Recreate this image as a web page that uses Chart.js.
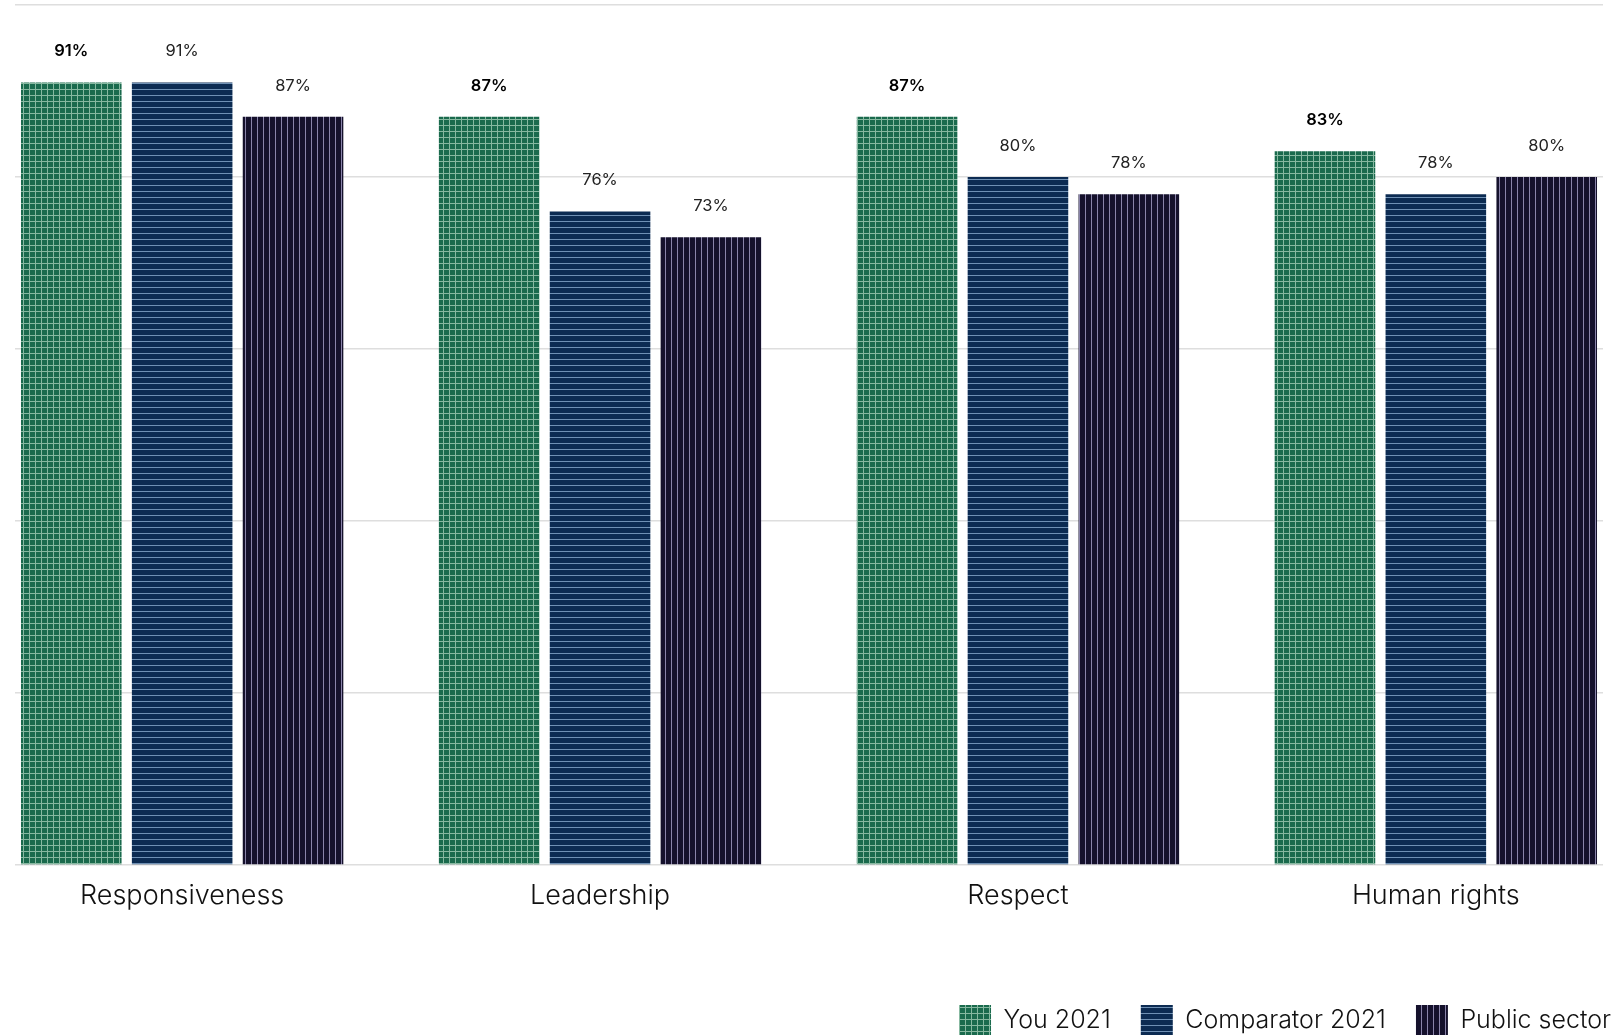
<!DOCTYPE html>
<html>
<head>
<meta charset="utf-8">
<script src="https://cdn.jsdelivr.net/npm/chart.js@4.4.1/dist/chart.umd.min.js"></script>
<style>
  html, body { margin: 0; padding: 0; background: #fff; overflow: hidden; }
  #wrap { width: 1641px; height: 1035px; }
</style>
</head>
<body>
<div id="wrap"><canvas id="barchart"></canvas></div>
<script>
// Daten
const categories = ['Responsiveness', 'Leadership', 'Respect', 'Human rights'];
const seriesNames = ['You 2021', 'Comparator 2021', 'Public sector'];
const you2021 = [91, 87, 87, 83];
const comparator2021 = [91, 76, 80, 78];
const publicSector = [87, 73, 78, 80];
const yTicks = [0, 20, 40, 60, 80, 100];

const FONT = 'Inter, Lato, sans-serif';

// Schraffur-Muster fuer die Balken
function makePattern(base, line, kind) {
  const c = document.createElement('canvas');
  c.width = 6; c.height = 6;
  const ctx = c.getContext('2d');
  ctx.fillStyle = base;
  ctx.fillRect(0, 0, 6, 6);
  ctx.fillStyle = line;
  if (kind === 'grid' || kind === 'h') ctx.fillRect(0, 5, 6, 1);
  if (kind === 'grid' || kind === 'v') ctx.fillRect(5, 0, 1, 6);
  return document.getElementById('barchart').getContext('2d').createPattern(c, 'repeat');
}

const greenPat = makePattern('#1a6a4d', '#86b8a0', 'grid');
const bluePat = makePattern('#0c2b52', '#6f90b4', 'h');
const darkPat = makePattern('#15112c', '#8a84aa', 'v');

const toPoints = arr => arr.map((v, i) => ({ x: i, y: v }));

// Werte ueber den Balken
const valueLabels = {
  id: 'valueLabels',
  afterDatasetsDraw(chart) {
    const ctx = chart.ctx;
    ctx.save();
    ctx.textAlign = 'center';
    ctx.textBaseline = 'middle';
    chart.data.datasets.forEach((ds, di) => {
      const meta = chart.getDatasetMeta(di);
      meta.data.forEach((bar, i) => {
        ctx.font = (di === 0 ? '600 ' : '400 ') + '16.5px ' + FONT;
        ctx.fillStyle = di === 0 ? '#000' : '#222';
        ctx.fillText(ds.data[i].y + '%', bar.x, bar.y - 31);
      });
    });
    ctx.restore();
  }
};

new Chart(document.getElementById('barchart'), {
  type: 'bar',
  data: {
    datasets: [
      { label: seriesNames[0], data: toPoints(you2021), backgroundColor: greenPat },
      { label: seriesNames[1], data: toPoints(comparator2021), backgroundColor: bluePat },
      { label: seriesNames[2], data: toPoints(publicSector), backgroundColor: darkPat }
    ]
  },
  options: {
    responsive: true,
    maintainAspectRatio: false,
    animation: false,
    categoryPercentage: 0.796,
    barPercentage: 0.907,
    layout: { padding: { left: 15, right: 0, top: 5, bottom: -10 } },
    plugins: {
      tooltip: { enabled: false },
      legend: {
        position: 'bottom',
        align: 'end',
        labels: {
          boxWidth: 32,
          boxHeight: 30,
          padding: 30,
          color: '#111',
          font: { family: FONT, size: 25, weight: '300' }
        }
      }
    },
    scales: {
      x: {
        type: 'linear',
        bounds: 'data',
        offset: false,
        min: -0.4,
        max: 3.4,
        afterBuildTicks: s => { s.ticks = categories.map((c, i) => ({ value: i })); },
        grid: { display: false, drawTicks: false },
        border: { display: false },
        ticks: {
          autoSkip: false,
          maxRotation: 0,
          padding: 15,
          color: '#111',
          font: { family: FONT, size: 27, weight: '300' },
          callback: v => categories[v] ?? ''
        },
        afterFit: s => { s.height = 110; }
      },
      y: {
        position: 'right',
        min: 0,
        max: 100,
        afterBuildTicks: s => { s.ticks = yTicks.map(v => ({ value: v })); },
        grid: { color: '#dedede', lineWidth: 1.5, drawTicks: false },
        border: { display: false },
        ticks: { display: false },
        afterFit: s => { s.width = 38; }
      }
    }
  },
  plugins: [valueLabels]
});
</script>
</body>
</html>
